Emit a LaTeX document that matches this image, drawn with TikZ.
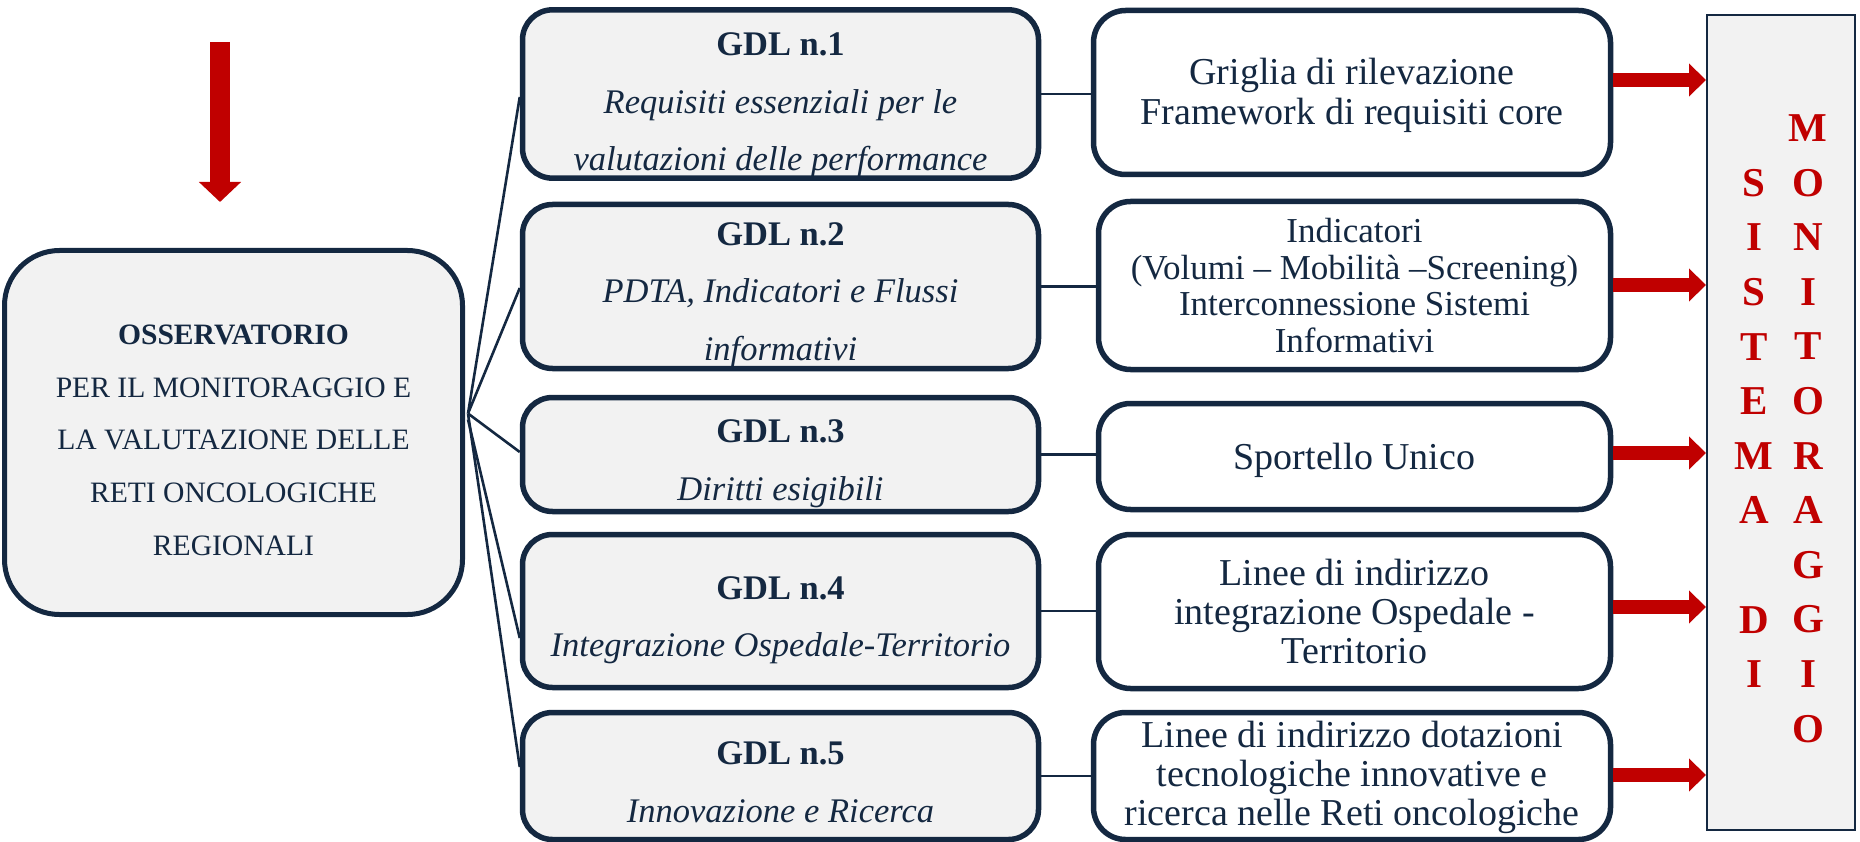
\documentclass[tikz,border=0pt]{standalone}
\usepackage{fontspec}
\setmainfont{Liberation Serif}
\usetikzlibrary{arrows.meta}
\definecolor{navy}{HTML}{142841}
\definecolor{boxgray}{HTML}{F2F2F2}
\definecolor{darkred}{HTML}{C00000}
\newcommand{\fsz}[2]{\fontsize{#1pt}{#2pt}\selectfont}
\newcommand{\lift}[1]{\rule{0pt}{#1pt}}
\begin{document}
\begin{tikzpicture}[x=1pt,y=-1pt,
  obsbox/.style={draw=navy, line width=5pt, fill=boxgray, rounded corners=55pt,
    minimum width=458pt, minimum height=364pt, align=center, text=navy,
    inner sep=0pt, font=\fsz{29.6}{52.75}},
  gdlbox/.style={draw=navy, line width=5.5pt, fill=boxgray, rounded corners=30pt,
    minimum width=516pt, align=center, text=navy, inner sep=0pt,
    font=\fsz{34.5}{57.5}},
  outbox/.style={draw=navy, line width=5.5pt, fill=white, rounded corners=32pt,
    align=center, text=navy, inner sep=0pt},
  link/.style={draw=navy, line width=2.6pt},
  redarrow/.style={draw=darkred, line width=14.7pt,
    -{Triangle[width=32pt,length=17pt]}},
  downarrow/.style={draw=darkred, line width=20pt,
    -{Triangle[width=41pt,length=20pt]}},
  monbox/.style={draw=navy, line width=1.5pt, fill=boxgray,
    minimum width=148pt, minimum height=815pt, inner sep=0pt},
  monletters/.style={text=darkred, font=\fsz{41}{54.6}\bfseries,
    align=center, inner sep=0pt}
]
\useasboundingbox (0,0) rectangle (1860,842);

% top red arrow
\coordinate (dtop) at (220,42);
\coordinate (dtip) at (220,202);
\draw[downarrow] (dtop) -- (dtip);

% observatory
\node[obsbox] (obs) at (233.5,432.5)
  {\lift{35}\textbf{OSSERVATORIO}\\PER IL MONITORAGGIO E\\LA VALUTAZIONE DELLE\\RETI ONCOLOGICHE\\REGIONALI};

% GDL boxes
\node[gdlbox, minimum height=167pt] (g1) at (780.5,94)
  {\lift{46}\textbf{GDL n.1}\\\textit{Requisiti essenziali per le}\\\textit{valutazioni delle performance}};
\node[gdlbox, minimum height=164pt] (g2) at (780.5,286.5)
  {\lift{40}\textbf{GDL n.2}\\\textit{PDTA, Indicatori e Flussi}\\\textit{informativi}};
\node[gdlbox, minimum height=114pt] (g3) at (780.5,454.5)
  {\lift{41}\textbf{GDL n.3}\\\textit{Diritti esigibili}};
\node[gdlbox, minimum height=153pt] (g4) at (780.5,611)
  {\lift{41}\textbf{GDL n.4}\\\textit{Integrazione Ospedale-Territorio}};
\node[gdlbox, minimum height=127pt] (g5) at (780.5,776)
  {\lift{35}\textbf{GDL n.5}\\\textit{Innovazione e Ricerca}};

% output boxes
\node[outbox, minimum width=517pt, minimum height=164pt, font=\fsz{38}{40}] (r1) at (1352,92.5)
  {\lift{32}Griglia di rilevazione\\Framework di requisiti core};
\node[outbox, minimum width=512pt, minimum height=168pt, font=\fsz{35}{36.7}] (r2) at (1354.5,285.5)
  {Indicatori\\(Volumi – Mobilità –Screening)\\Interconnessione Sistemi\\Informativi};
\node[outbox, minimum width=512pt, minimum height=106pt, font=\fsz{38}{39}] (r3) at (1354.5,456.5)
  {\lift{35}Sportello Unico};
\node[outbox, minimum width=512pt, minimum height=154pt, font=\fsz{38}{39}] (r4) at (1354.5,611.5)
  {Linee di indirizzo\\integrazione Ospedale -\\Territorio};
\node[outbox, minimum width=517pt, minimum height=127pt, font=\fsz{38}{39}] (r5) at (1352,776)
  {\lift{30}Linee di indirizzo dotazioni\\tecnologiche innovative e\\ricerca nelle Reti oncologiche};

% monitoring system box
\node[monbox] (mon) at (1781,422.5) {};
\node[monletters] (col1) at (1754,428.5) {S\\I\\S\\T\\E\\M\\A\\~\\D\\I};
\node[monletters] (col2) at (1808,428.5) {M\\O\\N\\I\\T\\O\\R\\A\\G\\G\\I\\O};

% fan connectors
\coordinate (fan) at ([xshift=3pt,yshift=19pt]obs.east);
\draw[link] (fan) -- ([yshift=-3pt]g1.west);
\draw[link] (fan) -- ([yshift=-1.5pt]g2.west);
\draw[link] (fan) -- ([yshift=2.5pt]g3.west);
\draw[link] ([yshift=-6pt]fan) -- ([yshift=-27pt]g4.west);
\draw[link] (fan) -- ([yshift=9pt]g5.west);

% GDL to output connectors
\draw[link] (g1.east) -- (g1.east -| r1.west);
\draw[link] (g2.east) -- (g2.east -| r2.west);
\draw[link] (g3.east) -- (g3.east -| r3.west);
\draw[link] (g4.east) -- (g4.east -| r4.west);
\draw[link] (g5.east) -- (g5.east -| r5.west);

% red arrows to monitoring box
\coordinate (a1) at (1706,80);
\coordinate (a2) at (1706,285);
\coordinate (a3) at (1706,453);
\coordinate (a4) at (1706,607);
\coordinate (a5) at (1706,775);
\draw[redarrow] (r1.east |- a1) -- (a1);
\draw[redarrow] (r2.east |- a2) -- (a2);
\draw[redarrow] (r3.east |- a3) -- (a3);
\draw[redarrow] (r4.east |- a4) -- (a4);
\draw[redarrow] (r5.east |- a5) -- (a5);
\end{tikzpicture}
\end{document}
